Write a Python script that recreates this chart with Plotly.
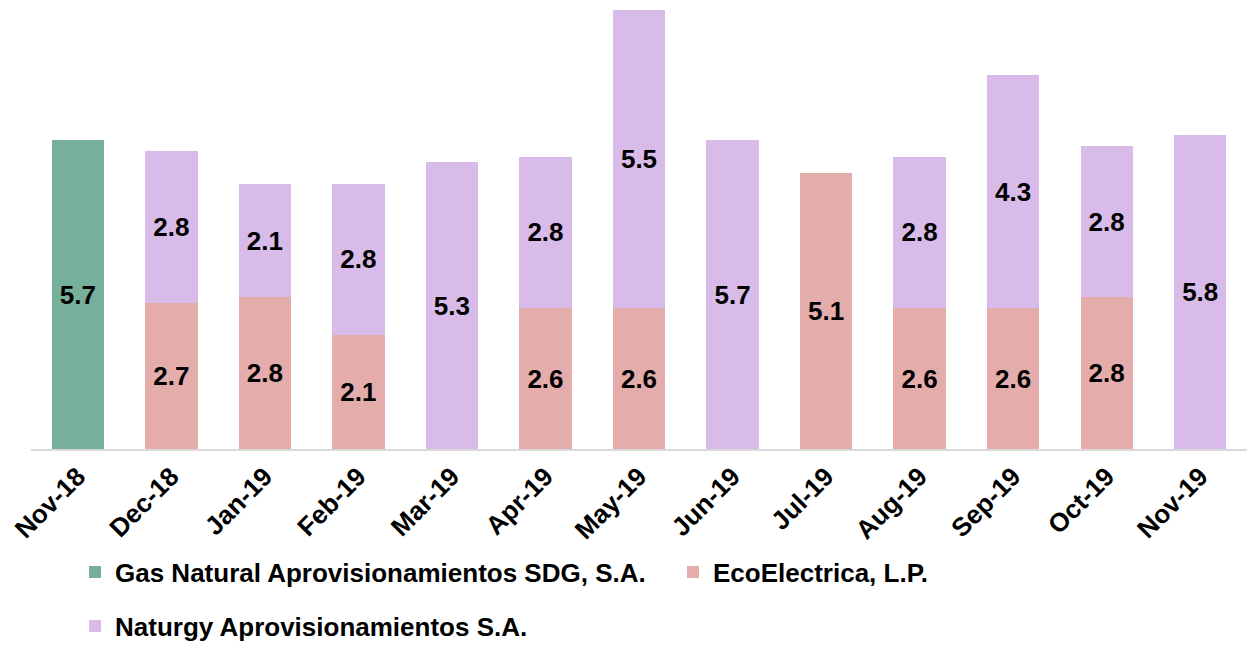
import plotly.graph_objects as go

months = ["Nov-18", "Dec-18", "Jan-19", "Feb-19", "Mar-19", "Apr-19", "May-19",
          "Jun-19", "Jul-19", "Aug-19", "Sep-19", "Oct-19", "Nov-19"]
gas_natural = [5.7, None, None, None, None, None, None, None, None, None, None, None, None]
ecoelectrica = [None, 2.7, 2.8, 2.1, None, 2.6, 2.6, None, 5.1, 2.6, 2.6, 2.8, None]
naturgy = [None, 2.8, 2.1, 2.8, 5.3, 2.8, 5.5, 5.7, None, 2.8, 4.3, 2.8, 5.8]

names = ["Gas Natural Aprovisionamientos SDG, S.A.", "EcoElectrica, L.P.", "Naturgy Aprovisionamientos S.A."]
colors = ["#76B09A", "#E5ACAC", "#D9BBEA"]

FONT = "Liberation Sans, Arial, sans-serif"
FS = 26
W, H = 1258, 645

def lbl(vals):
    return [("%.1f" % v) if v is not None else "" for v in vals]

legend_ids = ["legend", "legend2", "legend3"]

fig = go.Figure()
for vals, nm, col, lg in zip([gas_natural, ecoelectrica, naturgy], names, colors, legend_ids):
    fig.add_trace(go.Bar(
        x=months, y=vals, name=nm, marker=dict(color=col, line=dict(width=0)),
        text=lbl(vals), textposition="inside", insidetextanchor="middle",
        textangle=0,
        textfont=dict(family=FONT, size=FS, color="black", weight="bold"),
        legend=lg,
        hoverinfo="skip",
    ))

def leg(xpx, ypx):
    return dict(
        orientation="h", xref="container", yref="container",
        x=xpx / W, xanchor="left", y=(H - ypx) / H, yanchor="middle",
        font=dict(family=FONT, size=FS, color="black", weight="bold"),
        bgcolor="rgba(0,0,0,0)", itemwidth=30,
    )

fig.update_layout(
    barmode="stack",
    bargap=0.44,
    width=W, height=H,
    margin=dict(l=31, r=11, t=5, b=196),
    plot_bgcolor="white", paper_bgcolor="white",
    font=dict(family=FONT, color="black"),
    uniformtext=dict(minsize=FS, mode="show"),
    xaxis=dict(
        tickangle=-45, showline=True, linecolor="#D9D9D9", linewidth=2,
        ticks="", tickfont=dict(family=FONT, size=FS, color="black", weight="bold"),
        showgrid=False, automargin=False,
    ),
    yaxis=dict(range=[0, 8.2], visible=False, showgrid=False, automargin=False),
    legend=leg(75, 572),
    legend2=leg(673, 572),
    legend3=leg(75, 626),
    showlegend=True,
)

fig.write_html("out.html", config={"displayModeBar": False},
               post_script="document.body.style.margin='0px';")
